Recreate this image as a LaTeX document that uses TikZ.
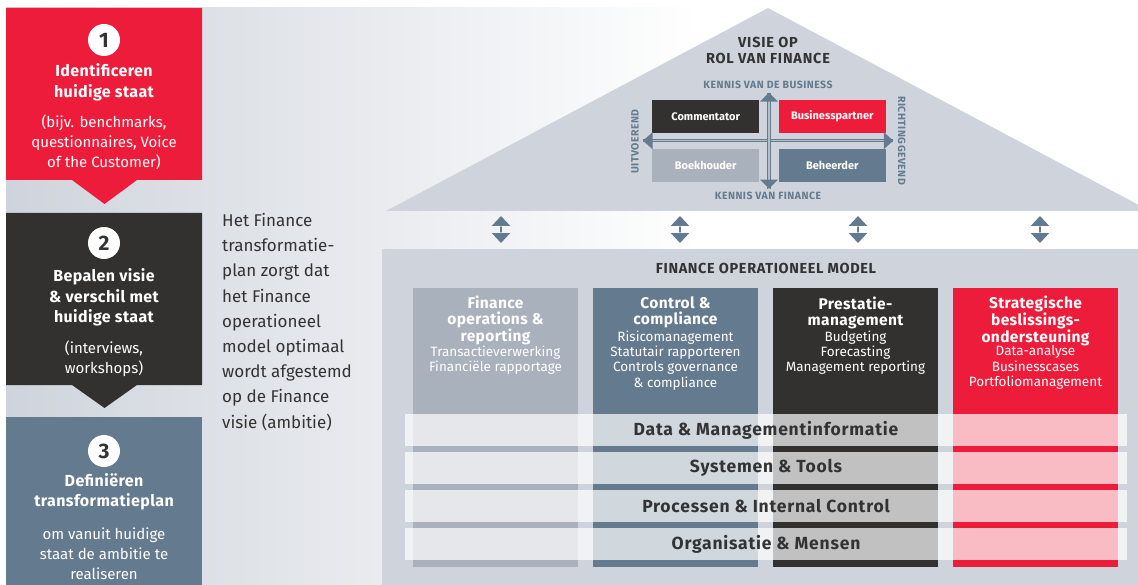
\documentclass[tikz,border=0pt]{standalone}
\usepackage{fontspec}
\setmainfont{Fira Sans}
\newfontfamily\lsA[LetterSpace=2.5]{Fira Sans}
\newfontfamily\lsB[LetterSpace=4.5]{Fira Sans}
\newfontfamily\lsC[LetterSpace=5.5]{Fira Sans}
\usetikzlibrary{arrows.meta}
\definecolor{fred}{HTML}{EE1C3B}
\definecolor{fdark}{HTML}{333130}
\definecolor{fsteel}{HTML}{647A8F}
\definecolor{flight}{HTML}{A9B1BD}
\definecolor{fgray}{HTML}{CFD4DC}
\definecolor{ftext}{HTML}{333333}
\definecolor{fline}{HTML}{B4BDC8}
\tikzset{
  numcirc/.style={circle, fill=white, minimum size=32pt, inner sep=0pt, text=ftext,
    font=\fontsize{21}{21}\selectfont\bfseries},
  boxtitle/.style={align=center, text=white, inner sep=0pt,
    font=\lsA\fontsize{16}{20.5}\selectfont\bfseries},
  boxsub/.style={align=center, text=white, inner sep=0pt,
    font=\fontsize{15}{20}\selectfont},
  midtext/.style={align=left, text=ftext, inner sep=0pt,
    font=\fontsize{17}{25.2}\selectfont},
  rooftitle/.style={align=center, text=ftext, inner sep=0pt,
    font=\lsC\fontsize{14.5}{16}\selectfont\bfseries},
  axislabel/.style={text=fsteel, inner sep=0pt,
    font=\lsB\fontsize{10.5}{10.5}\selectfont\bfseries},
  quad/.style={minimum width=106.7pt, minimum height=32.7pt, inner sep=0pt, text=white,
    font=\fontsize{11}{11}\selectfont\bfseries},
  axisline/.style={draw=fsteel, line width=1pt, double=fline, double distance=1.5pt},
  dblarrow/.style={fsteel, line width=2.5pt,
    {Triangle[width=18pt,length=10pt]}-{Triangle[width=18pt,length=10pt]}},
  tipgap/.style={draw=white, draw opacity=0.55, line width=0.8pt},
  colbox/.style={minimum width=165pt, minimum height=279pt, inner sep=0pt},
  coltitle/.style={align=center, text=white, inner sep=0pt,
    font=\lsA\fontsize{15.5}{16}\selectfont\bfseries},
  colitems/.style={align=center, text=white, inner sep=0pt,
    font=\fontsize{13.5}{15.3}\selectfont},
  bandbox/.style={fill=white, fill opacity=0.7, minimum width=722pt, minimum height=32pt, inner sep=0pt},
  bandtext/.style={text=ftext, inner sep=0pt, font=\lsB\fontsize{17.5}{17.5}\selectfont\bfseries},
  modeltitle/.style={text=ftext, inner sep=0pt, font=\lsB\fontsize{14.5}{14.5}\selectfont\bfseries},
}
\begin{document}
\begin{tikzpicture}[x=1pt,y=-1pt]
\useasboundingbox (0,0) rectangle (1138,585);
\fill[white] (0,0) rectangle (1138,585);
% background gradient
\shade[left color=fgray, right color=white] (6,8) rectangle (700,585);
% house
\fill[fgray] (386,211) -- (768,8) -- (1138,204.6) -- (1138,211) -- cycle;
\fill[fgray] (382,249) rectangle (1138,585);

% left steps
\fill[fred] (6,8) -- (202,8) -- (202,180) -- (137,180) -- (104.5,204) -- (72,180) -- (6,180) -- cycle;
\fill[fdark] (6,213) -- (202,213) -- (202,385) -- (137,385) -- (104.5,408) -- (72,385) -- (6,385) -- cycle;
\fill[fsteel] (6,417) rectangle (202,585);

\node[numcirc] (n1) at (104,40) {1};
\node[boxtitle] (t1) at (104,82.5) {Identificeren\\huidige staat};
\node[boxsub] (s1) at (104,142.5) {(bijv. benchmarks,\\questionnaires, Voice\\of the Customer)};

\node[numcirc] (n2) at (104,243) {2};
\node[boxtitle] (t2) at (104,297.5) {Bepalen visie\\\& verschil met\\huidige staat};
\node[boxsub] (s2) at (104,359) {(interviews,\\workshops)};

\node[numcirc] (n3) at (104,451) {3};
\node[boxtitle] (t3) at (104,492) {Definiëren\\transformatieplan};
\node[boxsub] (s3) at (104,553.5) {om vanuit huidige\\staat de ambitie te\\realiseren};

% middle text
\node[midtext, anchor=west] (mid) at (222,322) {Het Finance\\transformatie-\\plan zorgt dat\\het Finance\\operationeel\\model optimaal\\wordt afgestemd\\op de Finance\\visie (ambitie)};

% roof content
\node[rooftitle] (visie) at (768,50) {VISIE OP\\ROL VAN FINANCE};
\node[axislabel] (kb) at (768,85) {KENNIS VAN DE BUSINESS};
\node[axislabel] (kf) at (768,196) {KENNIS VAN FINANCE};
\node[axislabel, rotate=90] (uit) at (635,141.5) {UITVOEREND};
\node[axislabel, rotate=-90] (richt) at (901.7,140.7) {RICHTINGGEVEND};

\node[quad, fill=fdark] (comm) at (705.7,116.3) {Commentator};
\node[quad, fill=fred] (bp) at (832.3,116.3) {Businesspartner};
\node[quad, fill=flight] (boek) at (705.7,165.7) {Boekhouder};
\node[quad, fill=fsteel] (beh) at (832.3,165.7) {Beheerder};

\coordinate (vt) at (769,92.7);
\coordinate (vb) at (769,188.7);
\coordinate (hl) at (643,140.7);
\coordinate (hr) at (893.3,140.7);
\draw[axisline] (hl) -- (hr);
\draw[axisline] (vt) -- (vb);
\fill[fsteel] (vt) -- ++(9,9) -- ++(-18,0) -- cycle;
\fill[fsteel] (vb) -- ++(9,-9) -- ++(-18,0) -- cycle;
\fill[fsteel] (hl) -- ++(9.5,-8.5) -- ++(0,17) -- cycle;
\fill[fsteel] (hr) -- ++(-9.5,-8.5) -- ++(0,17) -- cycle;

% arrows between roof and body
\foreach \i/\xx in {1/501,2/680,3/858,4/1040}{
  \coordinate (a\i t) at (\xx,216);
  \coordinate (a\i b) at (\xx,243);
  \draw[dblarrow] (a\i t) -- (a\i b);
  \draw[tipgap] (\xx-9,226.3) -- (\xx+9,226.3);
  \draw[tipgap] (\xx-9,232.7) -- (\xx+9,232.7);
}

% operational model
\node[modeltitle] (model) at (766,268) {FINANCE OPERATIONEEL MODEL};

\node[colbox, fill=flight] (c1) at (495.5,427.5) {};
\node[colbox, fill=fsteel] (c2) at (675.5,427.5) {};
\node[colbox, fill=fdark] (c3) at (855.5,427.5) {};
\node[colbox, fill=fred] (c4) at (1035.5,427.5) {};

\node[coltitle] (c1t) at (495.5,320.5) {Finance\\operations \&\\reporting};
\node[colitems] (c1i) at (495.5,360) {Transactieverwerking\\Financiële rapportage};
\node[coltitle] (c2t) at (675.5,312.5) {Control \&\\compliance};
\node[colitems] (c2i) at (675.5,360.5) {Risicomanagement\\Statutair rapporteren\\Controls governance\\\& compliance};
\node[coltitle] (c3t) at (855.5,312.5) {Prestatie-\\management};
\node[colitems] (c3i) at (855.5,352.5) {Budgeting\\Forecasting\\Management reporting};
\node[coltitle] (c4t) at (1035.5,320.5) {Strategische\\beslissings-\\ondersteuning};
\node[colitems] (c4i) at (1035.5,367.5) {Data-analyse\\Businesscases\\Portfoliomanagement};

\node[bandbox] (b1) at (766,430) {};
\node[bandbox] (b2) at (766,468) {};
\node[bandbox] (b3) at (766,506) {};
\node[bandbox] (b4) at (766,544) {};
\node[bandtext] (b1t) at (766,430) {Data \& Managementinformatie};
\node[bandtext] (b2t) at (766,468) {Systemen \& Tools};
\node[bandtext] (b3t) at (766,506) {Processen \& Internal Control};
\node[bandtext] (b4t) at (766,544) {Organisatie \& Mensen};
\end{tikzpicture}
\end{document}
